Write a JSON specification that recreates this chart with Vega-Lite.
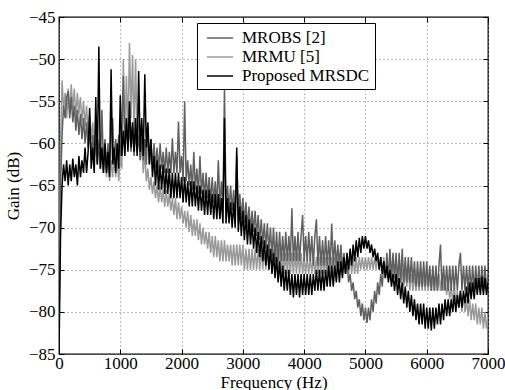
{
  "$schema": "https://vega.github.io/schema/vega-lite/v6.json",
  "width": 429,
  "height": 337,
  "autosize": {"type": "none"},
  "padding": {"left": 59, "top": 17, "right": 17, "bottom": 36},
  "background": "white",
  "config": {
    "font": "Liberation Serif",
    "view": {"stroke": "#000", "strokeWidth": 1.3},
    "axis": {
      "labelFont": "Liberation Serif", "labelFontSize": 17, "labelColor": "#000",
      "titleFont": "Liberation Serif", "titleFontSize": 17, "titleFontWeight": "normal", "titleColor": "#000",
      "tickColor": "#000", "tickWidth": 1, "tickSize": -5,
      "gridColor": "#777", "gridDash": [1, 3], "gridOpacity": 1, "gridWidth": 1,
      "domain": false, "labelFlush": false, "labelOverlap": false
    }
  },
  "data": {"values": [
{"f":0,"a":-82,"b":-84,"c":-85},
{"f":25,"a":-65,"b":-60,"c":-71},
{"f":50,"a":-59,"b":-52.5,"c":-65},
{"f":75,"a":-55.5,"b":-56,"c":-62.5},
{"f":100,"a":-57,"b":-54,"c":-64.5},
{"f":125,"a":-54.5,"b":-57,"c":-62},
{"f":150,"a":-53.8,"b":-53.5,"c":-65},
{"f":175,"a":-57,"b":-56.5,"c":-62.5},
{"f":200,"a":-54.5,"b":-53,"c":-64.5},
{"f":225,"a":-57.5,"b":-56,"c":-61.8},
{"f":250,"a":-55.5,"b":-53.5,"c":-64},
{"f":275,"a":-58.5,"b":-57,"c":-62.5},
{"f":300,"a":-56,"b":-54,"c":-65},
{"f":325,"a":-59,"b":-56.5,"c":-61.5},
{"f":350,"a":-56.5,"b":-54.5,"c":-64},
{"f":375,"a":-59.5,"b":-57.5,"c":-62},
{"f":400,"a":-57,"b":-55,"c":-63.5},
{"f":425,"a":-60,"b":-58,"c":-60.5},
{"f":450,"a":-57.5,"b":-55.5,"c":-63.5},
{"f":475,"a":-60.5,"b":-59,"c":-61},
{"f":500,"a":-58.5,"b":-56.5,"c":-55.8},
{"f":525,"a":-61.5,"b":-59.5,"c":-63},
{"f":550,"a":-59,"b":-57.5,"c":-60.5},
{"f":575,"a":-62,"b":-60.5,"c":-63.5},
{"f":600,"a":-59.5,"b":-58.5,"c":-54.5},
{"f":625,"a":-62.5,"b":-61.5,"c":-62.5},
{"f":650,"a":-60,"b":-59.5,"c":-48.5},
{"f":675,"a":-63,"b":-62.5,"c":-63},
{"f":700,"a":-56,"b":-60.5,"c":-60.5},
{"f":725,"a":-62.5,"b":-63.5,"c":-63.5},
{"f":750,"a":-59.5,"b":-61.5,"c":-60},
{"f":775,"a":-63,"b":-64,"c":-63.5},
{"f":800,"a":-60,"b":-62,"c":-61},
{"f":825,"a":-62.5,"b":-64.5,"c":-64},
{"f":850,"a":-59,"b":-62,"c":-51.2},
{"f":875,"a":-57,"b":-64,"c":-62.5},
{"f":900,"a":-62.5,"b":-61.5,"c":-60.5},
{"f":925,"a":-59.5,"b":-64,"c":-63.5},
{"f":950,"a":-62,"b":-62,"c":-60},
{"f":975,"a":-59,"b":-64.5,"c":-63},
{"f":1000,"a":-61.5,"b":-61.5,"c":-54.3},
{"f":1025,"a":-58.5,"b":-63,"c":-61.5},
{"f":1050,"a":-52,"b":-50,"c":-58.5},
{"f":1075,"a":-60.5,"b":-60,"c":-61.5},
{"f":1100,"a":-57.5,"b":-52,"c":-57},
{"f":1125,"a":-60.5,"b":-59,"c":-61},
{"f":1150,"a":-58,"b":-48.1,"c":-55},
{"f":1175,"a":-61,"b":-57,"c":-60.5},
{"f":1200,"a":-58,"b":-49.5,"c":-57.5},
{"f":1225,"a":-61.5,"b":-58.5,"c":-61},
{"f":1250,"a":-58.5,"b":-50,"c":-57},
{"f":1275,"a":-61,"b":-60,"c":-61.5},
{"f":1300,"a":-59,"b":-57.5,"c":-51.4},
{"f":1325,"a":-62,"b":-62,"c":-61},
{"f":1350,"a":-59.5,"b":-59.5,"c":-57},
{"f":1375,"a":-62,"b":-63.5,"c":-61.5},
{"f":1400,"a":-59.5,"b":-61,"c":-51.8},
{"f":1425,"a":-62.5,"b":-64.5,"c":-60.5},
{"f":1450,"a":-58,"b":-63,"c":-57.5},
{"f":1475,"a":-62.5,"b":-65.5,"c":-62.5},
{"f":1500,"a":-59.5,"b":-64,"c":-59.5},
{"f":1525,"a":-63,"b":-66,"c":-64},
{"f":1550,"a":-60,"b":-64.5,"c":-61.5},
{"f":1575,"a":-63,"b":-66.5,"c":-65},
{"f":1600,"a":-60.5,"b":-65,"c":-62},
{"f":1625,"a":-63.5,"b":-67,"c":-65.5},
{"f":1650,"a":-60,"b":-65,"c":-62.5},
{"f":1675,"a":-63,"b":-67,"c":-65.5},
{"f":1700,"a":-61,"b":-65.5,"c":-62.5},
{"f":1725,"a":-63.5,"b":-67.5,"c":-66},
{"f":1750,"a":-60.5,"b":-65.5,"c":-63},
{"f":1775,"a":-63.5,"b":-67.5,"c":-66},
{"f":1800,"a":-61,"b":-66,"c":-63},
{"f":1825,"a":-63.5,"b":-68,"c":-66.5},
{"f":1850,"a":-59.4,"b":-66.5,"c":-63.5},
{"f":1875,"a":-63.5,"b":-68.5,"c":-66.5},
{"f":1900,"a":-61,"b":-66.5,"c":-63.5},
{"f":1925,"a":-63.5,"b":-69,"c":-66.5},
{"f":1950,"a":-57.4,"b":-67,"c":-63.5},
{"f":1975,"a":-63.5,"b":-69,"c":-66.5},
{"f":2000,"a":-61.5,"b":-67.5,"c":-64},
{"f":2025,"a":-64.5,"b":-69.5,"c":-67},
{"f":2050,"a":-55,"b":-68,"c":-64},
{"f":2075,"a":-64.5,"b":-70,"c":-67},
{"f":2100,"a":-62,"b":-68,"c":-64.5},
{"f":2125,"a":-65,"b":-70.5,"c":-67.5},
{"f":2150,"a":-62.5,"b":-68.5,"c":-64.5},
{"f":2175,"a":-65.5,"b":-71,"c":-67.5},
{"f":2200,"a":-61,"b":-69,"c":-64.5},
{"f":2225,"a":-65.5,"b":-71,"c":-67.5},
{"f":2250,"a":-63,"b":-69,"c":-65},
{"f":2275,"a":-66,"b":-71.5,"c":-68},
{"f":2300,"a":-61.5,"b":-69.5,"c":-65},
{"f":2325,"a":-66,"b":-72,"c":-68},
{"f":2350,"a":-63.5,"b":-70,"c":-65.5},
{"f":2375,"a":-66.5,"b":-72,"c":-68.5},
{"f":2400,"a":-63.5,"b":-70.5,"c":-65.5},
{"f":2425,"a":-66.5,"b":-72.5,"c":-68.5},
{"f":2450,"a":-64,"b":-70.5,"c":-65.5},
{"f":2475,"a":-67,"b":-73,"c":-68.5},
{"f":2500,"a":-64,"b":-71,"c":-66},
{"f":2525,"a":-67,"b":-73.5,"c":-69},
{"f":2550,"a":-64.5,"b":-71,"c":-66},
{"f":2575,"a":-67.5,"b":-73.5,"c":-69},
{"f":2600,"a":-62,"b":-71.5,"c":-66},
{"f":2625,"a":-67.5,"b":-74,"c":-69},
{"f":2650,"a":-64.5,"b":-71.5,"c":-66.5},
{"f":2675,"a":-67.5,"b":-74,"c":-69.5},
{"f":2700,"a":-53.5,"b":-71.5,"c":-57},
{"f":2725,"a":-67.5,"b":-74,"c":-69.5},
{"f":2750,"a":-65,"b":-72,"c":-66.5},
{"f":2775,"a":-68,"b":-74,"c":-69.5},
{"f":2800,"a":-65,"b":-72,"c":-67},
{"f":2825,"a":-68,"b":-74.5,"c":-70},
{"f":2850,"a":-65.5,"b":-72,"c":-67},
{"f":2875,"a":-68.5,"b":-74.5,"c":-70},
{"f":2900,"a":-61.5,"b":-72,"c":-60.5},
{"f":2925,"a":-68.5,"b":-74.5,"c":-70.5},
{"f":2950,"a":-66,"b":-72,"c":-67.5},
{"f":2975,"a":-69,"b":-74.5,"c":-71},
{"f":3000,"a":-66.5,"b":-72,"c":-68},
{"f":3025,"a":-69.5,"b":-75,"c":-71.5},
{"f":3050,"a":-67,"b":-72.5,"c":-68.5},
{"f":3075,"a":-70,"b":-75,"c":-72},
{"f":3100,"a":-67.5,"b":-72.5,"c":-69},
{"f":3125,"a":-70.5,"b":-75,"c":-72},
{"f":3150,"a":-68,"b":-72.5,"c":-69.5},
{"f":3175,"a":-70.5,"b":-75,"c":-72.5},
{"f":3200,"a":-68,"b":-72.5,"c":-70},
{"f":3225,"a":-71,"b":-75,"c":-73},
{"f":3250,"a":-68.5,"b":-72.5,"c":-70.5},
{"f":3275,"a":-71.5,"b":-75,"c":-73.5},
{"f":3300,"a":-69,"b":-72.5,"c":-71},
{"f":3325,"a":-72,"b":-75,"c":-74},
{"f":3350,"a":-69.5,"b":-72.5,"c":-71.5},
{"f":3375,"a":-72.5,"b":-75,"c":-74.5},
{"f":3400,"a":-69.5,"b":-72.5,"c":-72},
{"f":3425,"a":-73,"b":-75,"c":-75},
{"f":3450,"a":-70,"b":-72.5,"c":-72.5},
{"f":3475,"a":-73.5,"b":-75,"c":-75.5},
{"f":3500,"a":-70,"b":-72.5,"c":-73},
{"f":3525,"a":-74,"b":-75,"c":-76},
{"f":3550,"a":-70.5,"b":-72.5,"c":-73.5},
{"f":3575,"a":-74,"b":-75,"c":-76.5},
{"f":3600,"a":-70.5,"b":-72.5,"c":-74},
{"f":3625,"a":-74,"b":-75.5,"c":-77},
{"f":3650,"a":-71,"b":-73,"c":-74.5},
{"f":3675,"a":-74,"b":-75.5,"c":-77.5},
{"f":3700,"a":-70.5,"b":-73,"c":-75},
{"f":3725,"a":-74,"b":-75.5,"c":-77.5},
{"f":3750,"a":-71,"b":-73,"c":-75},
{"f":3775,"a":-74,"b":-75.5,"c":-78},
{"f":3800,"a":-67.7,"b":-73,"c":-75.5},
{"f":3825,"a":-74,"b":-75.5,"c":-78.3},
{"f":3850,"a":-71,"b":-73,"c":-75.5},
{"f":3875,"a":-74,"b":-75.5,"c":-78},
{"f":3900,"a":-70.5,"b":-73,"c":-75.5},
{"f":3925,"a":-74,"b":-75.5,"c":-78.3},
{"f":3950,"a":-71,"b":-73,"c":-75.5},
{"f":3975,"a":-68.5,"b":-75.5,"c":-78},
{"f":4000,"a":-74,"b":-73.5,"c":-75.5},
{"f":4025,"a":-71,"b":-75.5,"c":-78},
{"f":4050,"a":-74,"b":-73.5,"c":-75.5},
{"f":4075,"a":-70.5,"b":-75.5,"c":-78},
{"f":4100,"a":-74,"b":-73.5,"c":-75.5},
{"f":4125,"a":-71,"b":-75.5,"c":-78},
{"f":4150,"a":-74.5,"b":-73.5,"c":-75.5},
{"f":4175,"a":-71,"b":-75.5,"c":-77.5},
{"f":4200,"a":-69,"b":-73.5,"c":-75},
{"f":4225,"a":-74.5,"b":-75.5,"c":-77.5},
{"f":4250,"a":-71,"b":-73.5,"c":-75},
{"f":4275,"a":-74.5,"b":-75.5,"c":-77.5},
{"f":4300,"a":-71.5,"b":-73.5,"c":-75},
{"f":4325,"a":-74.5,"b":-75.5,"c":-77.5},
{"f":4350,"a":-71,"b":-73.5,"c":-75},
{"f":4375,"a":-74.5,"b":-75.5,"c":-77},
{"f":4400,"a":-71.5,"b":-73.5,"c":-74.5},
{"f":4425,"a":-74.5,"b":-75.5,"c":-77},
{"f":4450,"a":-69.5,"b":-73.5,"c":-74.5},
{"f":4475,"a":-74.5,"b":-75.5,"c":-77},
{"f":4500,"a":-71.5,"b":-73.5,"c":-74.5},
{"f":4525,"a":-74.5,"b":-75.5,"c":-76.5},
{"f":4550,"a":-72,"b":-73.5,"c":-74},
{"f":4575,"a":-74.5,"b":-75.5,"c":-76.5},
{"f":4600,"a":-72,"b":-73.5,"c":-74},
{"f":4625,"a":-75,"b":-75.5,"c":-76},
{"f":4650,"a":-73,"b":-73.5,"c":-73.5},
{"f":4675,"a":-75.5,"b":-75.5,"c":-75.5},
{"f":4700,"a":-74,"b":-73.5,"c":-73},
{"f":4725,"a":-76.5,"b":-75.5,"c":-75},
{"f":4750,"a":-75.5,"b":-73.5,"c":-72.5},
{"f":4775,"a":-77.5,"b":-75.5,"c":-74.5},
{"f":4800,"a":-76.5,"b":-73.5,"c":-72},
{"f":4825,"a":-78.5,"b":-75.5,"c":-74},
{"f":4850,"a":-77.5,"b":-73.5,"c":-71.5},
{"f":4875,"a":-79.5,"b":-75.5,"c":-73.5},
{"f":4900,"a":-78.5,"b":-73.5,"c":-71.2},
{"f":4925,"a":-80.5,"b":-75,"c":-73},
{"f":4950,"a":-79,"b":-73.5,"c":-71},
{"f":4975,"a":-81,"b":-75,"c":-72.5},
{"f":5000,"a":-79.5,"b":-73.5,"c":-71},
{"f":5025,"a":-81.3,"b":-75,"c":-72.5},
{"f":5050,"a":-79.5,"b":-73.5,"c":-71.5},
{"f":5075,"a":-81,"b":-75,"c":-73},
{"f":5100,"a":-78.5,"b":-73.5,"c":-72},
{"f":5125,"a":-80,"b":-75,"c":-73.5},
{"f":5150,"a":-77.5,"b":-73.5,"c":-72.5},
{"f":5175,"a":-79,"b":-75,"c":-74},
{"f":5200,"a":-76.5,"b":-73.5,"c":-73},
{"f":5225,"a":-78,"b":-75,"c":-75},
{"f":5250,"a":-75.5,"b":-73.5,"c":-73.5},
{"f":5275,"a":-77,"b":-75.5,"c":-75.5},
{"f":5300,"a":-74,"b":-73.5,"c":-74},
{"f":5325,"a":-76,"b":-75.5,"c":-76},
{"f":5350,"a":-73,"b":-74,"c":-74.5},
{"f":5375,"a":-76,"b":-76,"c":-76.5},
{"f":5400,"a":-72.5,"b":-74,"c":-75},
{"f":5425,"a":-76,"b":-76,"c":-77},
{"f":5450,"a":-73,"b":-74,"c":-75.5},
{"f":5475,"a":-76,"b":-76,"c":-77.5},
{"f":5500,"a":-73,"b":-74.5,"c":-75.5},
{"f":5525,"a":-76.5,"b":-76.5,"c":-78},
{"f":5550,"a":-73,"b":-74.5,"c":-76},
{"f":5575,"a":-76.5,"b":-76.5,"c":-78.5},
{"f":5600,"a":-72.5,"b":-75,"c":-76.5},
{"f":5625,"a":-76.5,"b":-77,"c":-79},
{"f":5650,"a":-73.5,"b":-75,"c":-77},
{"f":5675,"a":-76.5,"b":-77,"c":-79.5},
{"f":5700,"a":-73.5,"b":-75,"c":-77.5},
{"f":5725,"a":-76.5,"b":-77.5,"c":-80},
{"f":5750,"a":-73.5,"b":-75.5,"c":-78},
{"f":5775,"a":-76.5,"b":-77.5,"c":-80.5},
{"f":5800,"a":-74,"b":-75.5,"c":-78.5},
{"f":5825,"a":-77,"b":-77.5,"c":-81},
{"f":5850,"a":-74,"b":-75.5,"c":-79},
{"f":5875,"a":-77,"b":-77.5,"c":-81.5},
{"f":5900,"a":-74,"b":-75.5,"c":-79},
{"f":5925,"a":-77,"b":-77.5,"c":-81.5},
{"f":5950,"a":-74,"b":-75.5,"c":-79},
{"f":5975,"a":-77,"b":-77.5,"c":-82},
{"f":6000,"a":-74,"b":-75.5,"c":-79.5},
{"f":6025,"a":-77,"b":-77.5,"c":-82},
{"f":6050,"a":-74.5,"b":-75.5,"c":-79.5},
{"f":6075,"a":-77.5,"b":-77.5,"c":-82.2},
{"f":6100,"a":-74.5,"b":-75.5,"c":-79.5},
{"f":6125,"a":-77.5,"b":-77.5,"c":-82},
{"f":6150,"a":-74.5,"b":-75.5,"c":-79.5},
{"f":6175,"a":-77.5,"b":-77.5,"c":-81.5},
{"f":6200,"a":-74.5,"b":-75.5,"c":-79},
{"f":6225,"a":-72,"b":-77.5,"c":-81.5},
{"f":6250,"a":-77.5,"b":-75.5,"c":-79},
{"f":6275,"a":-74.5,"b":-77.5,"c":-81},
{"f":6300,"a":-77.5,"b":-76,"c":-78.5},
{"f":6325,"a":-74.5,"b":-78,"c":-80.5},
{"f":6350,"a":-77.5,"b":-76.5,"c":-78.5},
{"f":6375,"a":-74.5,"b":-78.5,"c":-80.5},
{"f":6400,"a":-77.5,"b":-77,"c":-78.5},
{"f":6425,"a":-74.5,"b":-79,"c":-80},
{"f":6450,"a":-77.5,"b":-77,"c":-78},
{"f":6475,"a":-74.5,"b":-79,"c":-80},
{"f":6500,"a":-77.5,"b":-77.5,"c":-78},
{"f":6525,"a":-74.5,"b":-79.5,"c":-79.5},
{"f":6550,"a":-73,"b":-77.5,"c":-77.5},
{"f":6575,"a":-77.5,"b":-80,"c":-79.5},
{"f":6600,"a":-74.5,"b":-78,"c":-77.5},
{"f":6625,"a":-77.5,"b":-80,"c":-79},
{"f":6650,"a":-74.5,"b":-78.5,"c":-77},
{"f":6675,"a":-77.5,"b":-80.5,"c":-79},
{"f":6700,"a":-74.5,"b":-78.5,"c":-76.5},
{"f":6725,"a":-77.5,"b":-81,"c":-78.5},
{"f":6750,"a":-74.5,"b":-79,"c":-76.5},
{"f":6775,"a":-77.5,"b":-81,"c":-78.5},
{"f":6800,"a":-74.5,"b":-79,"c":-76},
{"f":6825,"a":-77.5,"b":-81.5,"c":-78},
{"f":6850,"a":-74.5,"b":-79.5,"c":-76},
{"f":6875,"a":-77.5,"b":-81.5,"c":-78},
{"f":6900,"a":-74.5,"b":-79.5,"c":-75.8},
{"f":6925,"a":-77.5,"b":-82,"c":-78},
{"f":6950,"a":-74.5,"b":-80,"c":-76},
{"f":6975,"a":-77.5,"b":-82,"c":-78},
{"f":7000,"a":-75.5,"b":-80.5,"c":-76.5}
  ]},
  "transform": [{"fold": ["b", "a", "c"], "as": ["s", "g"]}],
  "layer": [
    {
      "mark": {"type": "line", "clip": true},
      "encoding": {
        "x": {"field": "f", "type": "quantitative", "scale": {"domain": [0, 7000], "nice": false, "zero": false},
              "axis": {"values": [0,1000,2000,3000,4000,5000,6000,7000], "format": "d", "title": "Frequency (Hz)", "labelPadding": 6, "titlePadding": 3, "grid": true}},
        "y": {"field": "g", "type": "quantitative", "scale": {"domain": [-85, -45], "nice": false, "zero": false},
              "axis": {"values": [-85,-80,-75,-70,-65,-60,-55,-50,-45], "title": "Gain (dB)", "labelPadding": 9, "titlePadding": 6, "grid": true}},
        "color": {"field": "s", "type": "nominal",
                  "scale": {"domain": ["a", "b", "c"], "range": ["#606060", "#9a9a9a", "#000000"]},
                  "legend": {"orient": "none", "legendX": 138, "legendY": 6, "title": null,
                             "strokeColor": "#000", "fillColor": "#fff", "padding": 5,
                             "symbolType": "M-1.45,0H1.45", "symbolSize": 324, "symbolStrokeWidth": 1.6, "symbolOffset": 8,
                             "labelFont": "Liberation Serif", "labelFontSize": 17, "labelColor": "#000",
                             "labelOffset": 12, "rowPadding": 1,
                             "labelExpr": "datum.label == 'a' ? 'MROBS [2]' : datum.label == 'b' ? 'MRMU [5]' : 'Proposed MRSDC'"}},
        "strokeWidth": {"field": "s", "type": "ordinal",
                        "scale": {"domain": ["a", "b", "c"], "range": [1.5, 1.5, 2.6]}, "legend": null}
      }
    },
    {
      "mark": {"type": "line", "opacity": 0},
      "encoding": {
        "x": {"field": "f", "type": "quantitative",
              "axis": {"orient": "top", "values": [0,1000,2000,3000,4000,5000,6000,7000], "labels": false, "title": null, "grid": false}},
        "y": {"field": "g", "type": "quantitative",
              "axis": {"orient": "right", "values": [-85,-80,-75,-70,-65,-60,-55,-50,-45], "labels": false, "title": null, "grid": false}}
      }
    }
  ],
  "resolve": {"axis": {"x": "independent", "y": "independent"}}
}
